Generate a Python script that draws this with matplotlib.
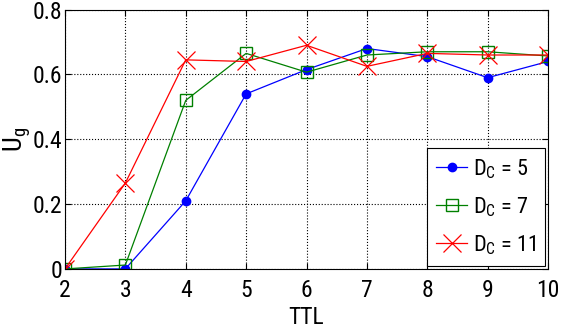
import numpy as np
import matplotlib
matplotlib.use("Agg")
import matplotlib.pyplot as plt

# data
ttl = [2, 3, 4, 5, 6, 7, 8, 9, 10]
ug_dc5 = [0.0, 0.0, 0.21, 0.54, 0.615, 0.68, 0.655, 0.59, 0.64]
ug_dc7 = [0.0, 0.012, 0.52, 0.665, 0.607, 0.66, 0.67, 0.67, 0.657]
ug_dc11 = [0.0, 0.265, 0.645, 0.64, 0.69, 0.625, 0.665, 0.66, 0.66]
labels = [r'D$_\mathregular{C}$ = 5', r'D$_\mathregular{C}$ = 7', r'D$_\mathregular{C}$ = 11']

fams = ['Roboto Condensed', 'Liberation Sans Narrow', 'Liberation Sans', 'DejaVu Sans']
plt.rcParams['font.family'] = fams
plt.rcParams['font.stretch'] = 'condensed'
plt.rcParams['mathtext.fontset'] = 'custom'
plt.rcParams['mathtext.rm'] = 'Roboto Condensed'

fig = plt.figure(figsize=(5.65, 3.32), dpi=100)
ax = fig.add_axes([0.115, 0.19, 0.855, 0.781])

ax.plot(ttl, ug_dc5, color='blue', lw=0.9, marker='o', ms=6, label=labels[0])
ax.plot(ttl, ug_dc7, color='green', lw=0.9, marker='s', ms=8, mfc='none', label=labels[1])
ax.plot(ttl, ug_dc11, color='red', lw=0.9, marker='x', ms=13, mew=0.9, label=labels[2])

ax.set_xlim(2, 10)
ax.set_ylim(0, 0.8)
ax.set_xticks(range(2, 11))
ax.set_yticks([0, 0.2, 0.4, 0.6, 0.8])
ax.set_yticklabels(['0', '0.2', '0.4', '0.6', '0.8'])
ax.tick_params(direction='in', labelsize=17, length=4, top=True, right=True)
ax.tick_params(axis='x', pad=7)
ax.tick_params(axis='y', pad=2)
ax.grid(True, linestyle=':', color='black', lw=0.8)
for s in ax.spines.values():
    s.set_linewidth(0.8)

ax.set_xlabel('TTL', fontsize=17, labelpad=3)
ax.set_ylabel(r'U$_\mathregular{g}$', fontsize=19, labelpad=0)

leg = ax.legend(loc='lower right', fontsize=16, fancybox=False, framealpha=1,
                edgecolor='black', borderaxespad=0.15, handlelength=1.4,
                handletextpad=0.25, labelspacing=0.65, borderpad=0.4)
leg.get_frame().set_linewidth(0.8)

fig.savefig('out.png', dpi=100)
